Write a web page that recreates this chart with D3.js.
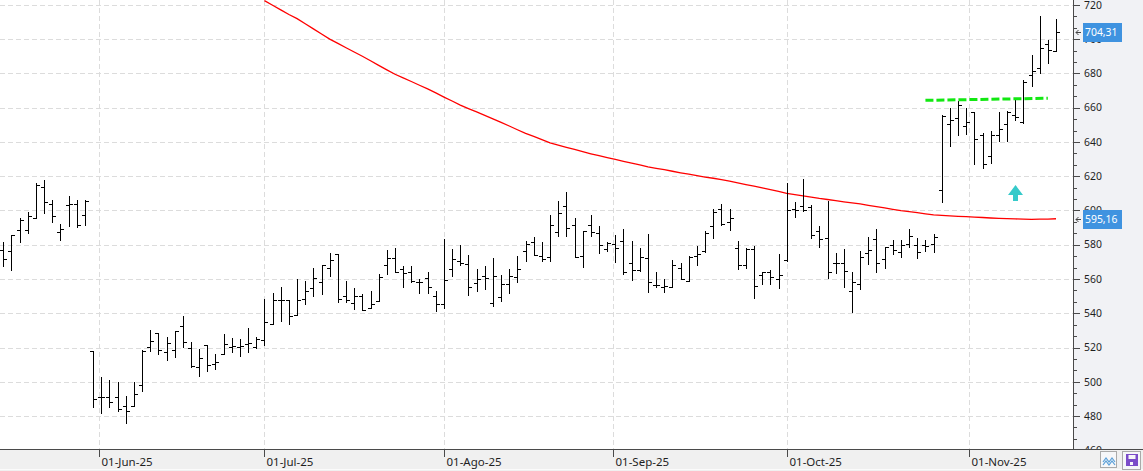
<!DOCTYPE html>
<html>
<head>
<meta charset="utf-8">
<script src="https://cdn.jsdelivr.net/npm/d3@7"></script>
<style>
body { margin: 0; background: #fff; overflow: hidden; }
svg { display: block; font-family: "Noto Sans", "Open Sans", sans-serif; }
</style>
</head>
<body>
<div id="chart"></div>
<script>
// trading days shown on the chart
var dates = [
"2025-05-14","2025-05-15","2025-05-16","2025-05-19","2025-05-20","2025-05-21","2025-05-22","2025-05-23","2025-05-27","2025-05-28","2025-05-29","2025-05-30",
"2025-06-02","2025-06-03","2025-06-04","2025-06-05","2025-06-06","2025-06-09","2025-06-10","2025-06-11","2025-06-12","2025-06-13","2025-06-16","2025-06-17","2025-06-18","2025-06-20","2025-06-23","2025-06-24","2025-06-25","2025-06-26","2025-06-27","2025-06-30",
"2025-07-01","2025-07-02","2025-07-03","2025-07-07","2025-07-08","2025-07-09","2025-07-10","2025-07-11","2025-07-14","2025-07-15","2025-07-16","2025-07-17","2025-07-18","2025-07-21","2025-07-22","2025-07-23","2025-07-24","2025-07-25","2025-07-28","2025-07-29","2025-07-30","2025-07-31",
"2025-08-01","2025-08-04","2025-08-05","2025-08-06","2025-08-07","2025-08-08","2025-08-11","2025-08-12","2025-08-13","2025-08-14","2025-08-15","2025-08-18","2025-08-19","2025-08-20","2025-08-21","2025-08-22","2025-08-25","2025-08-26","2025-08-27","2025-08-28","2025-08-29",
"2025-09-02","2025-09-03","2025-09-04","2025-09-05","2025-09-08","2025-09-09","2025-09-10","2025-09-11","2025-09-12","2025-09-15","2025-09-16","2025-09-17","2025-09-18","2025-09-19","2025-09-22","2025-09-23","2025-09-24","2025-09-25","2025-09-26","2025-09-29","2025-09-30",
"2025-10-01","2025-10-02","2025-10-03","2025-10-06","2025-10-07","2025-10-08","2025-10-09","2025-10-10","2025-10-13","2025-10-14","2025-10-15","2025-10-16","2025-10-17","2025-10-20","2025-10-21","2025-10-22","2025-10-23","2025-10-24","2025-10-27","2025-10-28","2025-10-29","2025-10-30","2025-10-31",
"2025-11-03","2025-11-04","2025-11-05","2025-11-06","2025-11-07","2025-11-10","2025-11-11","2025-11-12","2025-11-13","2025-11-14","2025-11-17"
];

var opens = [
577.0,576.6,588.6,588.8,595.6,613.8,604.0,587.7,603.4,604.0,597.4,518.1,
491.0,491.0,491.0,485.6,485.8,498.0,520.4,528.2,517.3,518.5,532.7,519.7,508.6,521.6,510.5,516.2,520.3,520.4,522.0,520.1,
524.3,533.7,547.5,547.5,538.8,548.3,554.7,558.5,566.3,574.8,549.8,545.8,550.2,543.2,546.9,568.0,572.5,565.7,563.8,558.0,560.3,550.0,
545.2,565.9,570.3,569.0,557.4,561.8,546.2,549.4,557.0,561.0,576.1,581.5,573.2,572.8,587.2,602.7,591.7,573.2,591.8,586.8,577.3,
580.2,582.1,569.1,565.2,572.0,556.7,555.3,555.5,566.4,558.6,573.6,576.1,590.7,600.6,593.0,578.1,568.0,577.7,562.1,564.1,560.2,
571.0,600.6,602.4,602.3,588.1,584.2,569.1,569.1,552.8,556.9,574.9,583.3,571.6,579.6,575.5,580.4,579.6,579.6,580.7,612.2,650.6,654.1,649.4,
657.4,644.2,631.6,644.2,650.6,655.8,651.5,678.9,683.2,697.1,692.8
];
var highs = [
581.4,585.7,595.6,599.2,616.1,617.5,606.2,592.3,608.7,606.4,606.2,518.1,
502.9,501.0,500.0,491.8,500.0,518.5,530.4,528.6,525.9,529.6,538.6,523.2,519.1,521.6,516.4,528.0,525.5,525.1,531.6,526.1,
548.5,552.0,555.2,547.5,559.9,558.7,566.3,568.4,575.0,574.8,558.7,554.5,551.2,552.7,563.2,576.7,577.9,567.4,567.8,560.1,563.8,552.9,
583.1,577.3,579.6,573.8,565.9,567.8,572.5,562.6,565.9,573.6,581.9,584.4,581.5,597.5,605.4,610.7,595.5,588.3,597.5,591.1,581.6,
585.4,588.9,581.9,577.9,586.0,564.3,560.0,570.9,569.1,573.4,579.4,587.8,600.6,603.7,600.8,582.1,577.9,579.0,564.3,565.0,574.6,
615.9,605.0,618.2,603.4,591.0,605.4,574.9,577.4,564.1,576.3,584.8,588.9,578.8,582.7,582.7,588.9,584.2,582.7,586.0,655.8,659.9,664.1,659.9,
657.7,645.5,646.1,657.2,658.3,665.7,676.2,690.9,713.6,699.6,711.9
];
var lows = [
567.4,565.1,581.4,586.7,595.6,598.4,593.3,582.6,590.8,590.2,591.4,485.0,
481.5,485.2,482.8,476.2,485.8,494.5,518.1,516.0,513.0,514.6,520.3,508.4,503.1,506.0,507.6,516.2,517.1,514.8,517.1,519.5,
521.2,533.7,535.7,533.6,538.8,545.2,550.0,551.4,561.8,546.3,546.3,542.3,542.1,542.9,546.9,563.0,563.9,555.4,558.3,552.0,551.6,541.5,
542.9,561.8,568.4,550.4,552.9,553.9,544.2,547.1,552.0,558.0,570.7,573.8,570.7,570.3,585.2,585.2,572.6,567.2,585.2,575.0,576.1,
570.1,563.1,559.6,564.9,552.6,555.1,552.6,555.5,559.8,558.6,568.2,575.7,584.1,591.3,588.7,565.6,566.2,548.9,556.9,557.3,555.0,
570.7,596.3,599.9,584.2,578.4,560.8,563.3,555.5,541.0,554.0,568.7,563.9,566.2,574.3,572.6,578.4,572.4,576.1,575.9,605.0,637.6,644.2,644.7,
627.1,625.0,627.7,640.5,640.5,653.1,651.1,672.5,680.2,685.9,692.8
];
var closes = [
571.7,585.7,594.7,596.8,615.1,605.0,596.8,589.2,603.8,591.6,605.8,489.9,
491.0,488.1,484.4,483.2,492.8,518.1,524.0,518.7,522.4,529.6,523.2,509.2,513.8,510.0,511.5,522.2,520.6,520.8,522.4,524.9,
534.9,547.5,547.5,538.6,547.5,552.7,560.3,568.0,570.9,548.5,547.9,550.0,542.1,545.2,560.9,572.5,564.3,563.6,558.7,558.0,555.2,545.2,
559.3,571.9,569.6,555.2,560.1,560.3,562.0,557.0,561.6,566.1,580.2,573.8,571.7,591.7,598.3,589.7,572.6,588.2,587.2,579.6,581.2,
577.9,564.1,565.2,573.0,558.1,556.3,555.7,568.0,559.8,573.0,574.4,586.6,599.0,592.0,595.7,568.0,577.7,555.9,564.1,561.4,562.1,
600.0,600.0,600.0,585.4,583.3,563.9,569.5,564.6,558.0,573.0,576.9,569.1,578.4,576.9,579.6,585.0,575.5,579.0,584.4,655.4,653.1,661.6,651.9,
641.5,626.9,644.2,647.3,657.7,654.4,675.2,681.4,694.8,693.8,704.31
];

// moving average, one value per day from 2025-07-01 to the last day
var maValues = [
722.5,719.8,717.1,714.4,712.0,709.0,706.0,703.0,700.0,697.5,695.0,692.5,690.0,687.4,684.7,682.1,679.5,677.4,675.3,673.1,671.0,668.6,
666.2,663.9,661.5,659.5,657.5,655.5,653.5,651.4,649.3,647.1,645.0,643.2,641.3,639.5,638.2,636.9,635.6,634.3,633.1,632.0,630.9,
629.8,628.7,627.7,626.6,625.5,624.6,623.8,622.9,622.0,621.2,620.3,619.5,618.8,618.0,617.1,616.1,615.1,614.2,613.2,612.2,611.1,
610.0,609.3,608.5,607.8,607.0,606.4,605.7,605.0,604.4,603.8,603.0,602.3,601.5,600.7,599.9,599.3,598.7,598.0,597.4,597.1,596.9,596.6,596.4,
596.1,595.9,595.6,595.4,595.2,595.1,594.9,594.8,594.9,595.0,595.16
];

var trendLine = [["2025-10-24", 664.3], ["2025-11-14", 665.5]];
var signals = [["2025-11-10", 615.0]];

var yTicks = [460,480,500,520,540,560,580,600,620,640,660,680,700,720];
var monthStarts = ["2025-06-01","2025-07-01","2025-08-01","2025-09-01","2025-10-01","2025-11-01"];
var monthLabels = ["01-Jun-25","01-Jul-25","01-Ago-25","01-Sep-25","01-Oct-25","01-Nov-25"];

var W = 1143, H = 471;
var plotRight = 1073, plotBottom = 449;

var svg = d3.select("#chart").append("svg").attr("width", W).attr("height", H);

var x = d3.scalePoint().domain(dates).range([3.3, 1056]);
var y = d3.scaleLinear().domain([460, 720]).range([450.3, 4.9]);
var parse = d3.timeParse("%Y-%m-%d");

// x position of a calendar day, placed between trading days when closed
function xDate(s) {
	var t = parse(s);
	for (var i = 0; i < dates.length; i++) {
		var ti = parse(dates[i]);
		if (+ti == +t) return x(dates[i]);
		if (ti > t) {
			var tp = parse(dates[i-1]);
			return x(dates[i-1]) + x.step() * (t - tp) / (ti - tp);
		}
	}
	return x(dates[dates.length-1]);
}
function crisp(v) { return Math.round(v) + 0.5; }

var chart = svg.append("g");

// grid
chart.selectAll(".hgrid").data(yTicks).enter().append("line")
	.attr("x1", 0).attr("x2", plotRight)
	.attr("y1", function(d) { return crisp(y(d)); })
	.attr("y2", function(d) { return crisp(y(d)); })
	.attr("stroke", "#dcdcdc").attr("stroke-dasharray", "5,3")
	.attr("shape-rendering", "crispEdges");

chart.selectAll(".vgrid").data(monthStarts).enter().append("line")
	.attr("x1", function(d) { return crisp(xDate(d)); })
	.attr("x2", function(d) { return crisp(xDate(d)); })
	.attr("y1", 0).attr("y2", plotBottom)
	.attr("stroke", "#dcdcdc").attr("stroke-dasharray", "5,3")
	.attr("shape-rendering", "crispEdges");

// moving average
var maOffset = dates.length - maValues.length;
var line = d3.line()
	.x(function(d, i) { return x(dates[maOffset + i]); })
	.y(function(d) { return y(d); });
chart.append("path").datum(maValues)
	.attr("d", line)
	.attr("fill", "none").attr("stroke", "#ff0000").attr("stroke-width", 1.3);

// OHLC bars
var bars = chart.selectAll(".bar").data(dates).enter().append("g").attr("class", "bar");
bars.append("line")
	.attr("x1", function(d) { return crisp(x(d)); })
	.attr("x2", function(d) { return crisp(x(d)); })
	.attr("y1", function(d, i) { return Math.round(y(highs[i])); })
	.attr("y2", function(d, i) { return Math.round(y(lows[i])) + 1; })
	.attr("stroke", "#000").attr("shape-rendering", "crispEdges");
bars.append("line")
	.attr("x1", function(d) { return Math.round(x(d)) - 3; })
	.attr("x2", function(d) { return Math.round(x(d)); })
	.attr("y1", function(d, i) { return crisp(y(opens[i])); })
	.attr("y2", function(d, i) { return crisp(y(opens[i])); })
	.attr("stroke", "#000").attr("shape-rendering", "crispEdges");
bars.append("line")
	.attr("x1", function(d) { return Math.round(x(d)) + 1; })
	.attr("x2", function(d) { return Math.round(x(d)) + 4; })
	.attr("y1", function(d, i) { return crisp(y(closes[i])); })
	.attr("y2", function(d, i) { return crisp(y(closes[i])); })
	.attr("stroke", "#000").attr("shape-rendering", "crispEdges");

// resistance line
chart.append("line")
	.attr("x1", x(trendLine[0][0])).attr("y1", y(trendLine[0][1]))
	.attr("x2", x(trendLine[1][0])).attr("y2", y(trendLine[1][1]))
	.attr("stroke", "#12e812").attr("stroke-width", 3).attr("stroke-dasharray", "8,3");

// buy arrow
chart.selectAll(".signal").data(signals).enter().append("path")
	.attr("d", function(d) {
		var cx = Math.round(x(d[0])) + 0.5, t = Math.round(y(d[1]));
		return "M" + cx + "," + t + "L" + (cx + 7.5) + "," + (t + 10) + "L" + (cx + 2.5) + "," + (t + 10) +
			"L" + (cx + 2.5) + "," + (t + 16) + "L" + (cx - 2.5) + "," + (t + 16) + "L" + (cx - 2.5) + "," + (t + 10) +
			"L" + (cx - 7.5) + "," + (t + 10) + "Z";
	})
	.attr("fill", "#36caca");

// right axis panel
svg.append("rect").attr("x", plotRight + 1).attr("y", 0).attr("width", W - plotRight).attr("height", plotBottom)
	.attr("fill", "#f1f2f5");
svg.append("line").attr("x1", plotRight + 0.5).attr("x2", plotRight + 0.5).attr("y1", 0).attr("y2", plotBottom)
	.attr("stroke", "#4a4a4a").attr("shape-rendering", "crispEdges");

var minorTicks = [];
for (var k = 0; k < yTicks.length - 1; k++) {
	minorTicks.push(yTicks[k] + (yTicks[k+1] - yTicks[k]) / 3);
	minorTicks.push(yTicks[k] + 2 * (yTicks[k+1] - yTicks[k]) / 3);
}
svg.selectAll(".minor").data(minorTicks).enter().append("line")
	.attr("x1", plotRight).attr("x2", plotRight + 4)
	.attr("y1", function(d) { return crisp(y(d)); })
	.attr("y2", function(d) { return crisp(y(d)); })
	.attr("stroke", "#4a4a4a").attr("shape-rendering", "crispEdges");
svg.selectAll(".major").data(yTicks).enter().append("line")
	.attr("x1", plotRight).attr("x2", plotRight + 7)
	.attr("y1", function(d) { return crisp(y(d)); })
	.attr("y2", function(d) { return crisp(y(d)); })
	.attr("stroke", "#4a4a4a").attr("shape-rendering", "crispEdges");
svg.selectAll(".ylab").data(yTicks).enter().append("text")
	.attr("x", plotRight + 11).attr("y", function(d) { return y(d); })
	.attr("dy", "0.36em")
	.attr("font-size", "10.4px").attr("fill", "#1f1f1f")
	.text(function(d) { return d; });

// last value boxes
var fmt = function(v) { return d3.format(".2f")(v).replace(".", ","); };
var lastVals = [closes[closes.length - 1], maValues[maValues.length - 1]];
var tags = svg.selectAll(".tag").data(lastVals).enter().append("g");
tags.append("rect")
	.attr("x", plotRight + 10).attr("y", function(d) { return Math.round(y(d)) - 9; })
	.attr("width", 39).attr("height", 19).attr("fill", "#3f93e0");
tags.append("text")
	.attr("x", plotRight + 12).attr("y", function(d) { return y(d); })
	.attr("dy", "0.36em").attr("font-size", "10.4px").attr("fill", "#fff")
	.text(function(d) { return fmt(d); });
tags.append("path")
	.attr("d", function(d) {
		var c = Math.round(y(d)) + 0.5;
		return "M" + (plotRight + 8) + "," + c + "H" + (plotRight + 3) +
			"M" + (plotRight + 5.5) + "," + (c - 2.5) + "L" + (plotRight + 3) + "," + c + "L" + (plotRight + 5.5) + "," + (c + 2.5);
	})
	.attr("fill", "none").attr("stroke", "#444");

// bottom axis panel
svg.append("rect").attr("x", 0).attr("y", plotBottom).attr("width", W).attr("height", H - plotBottom)
	.attr("fill", "#f0f0f0");
svg.append("line").attr("x1", 0).attr("x2", W).attr("y1", plotBottom + 0.5).attr("y2", plotBottom + 0.5)
	.attr("stroke", "#4a4a4a").attr("shape-rendering", "crispEdges");
svg.append("line").attr("x1", 0).attr("x2", W).attr("y1", H - 1.5).attr("y2", H - 1.5)
	.attr("stroke", "#fbfbfb").attr("shape-rendering", "crispEdges");
svg.selectAll(".xtick").data(monthStarts).enter().append("line")
	.attr("x1", function(d) { return crisp(xDate(d)); })
	.attr("x2", function(d) { return crisp(xDate(d)); })
	.attr("y1", plotBottom).attr("y2", plotBottom + 8)
	.attr("stroke", "#4a4a4a").attr("shape-rendering", "crispEdges");
svg.selectAll(".xlab").data(monthStarts).enter().append("text")
	.attr("x", function(d) { return Math.round(xDate(d)) + 2.5; })
	.attr("y", 466)
	.attr("font-size", "11.5px").attr("fill", "#1f1f1f")
	.text(function(d, i) { return monthLabels[i]; });

// small buttons at the bottom right
svg.append("rect").attr("x", 1100.5).attr("y", 451.5).attr("width", 16).attr("height", 16)
	.attr("fill", "#f6f7f9").attr("stroke", "#aaa");
svg.append("path").attr("d", "M1103,462L1106,458L1109,462L1112,458L1115,462M1103,465L1106,461L1109,465L1112,461L1115,465")
	.attr("fill", "none").attr("stroke", "#5a9fd8").attr("stroke-width", 1.2);
svg.append("rect").attr("x", 1122.5).attr("y", 451.5).attr("width", 18).attr("height", 18)
	.attr("fill", "#f6f7f9").attr("stroke", "#aaa");
svg.append("rect").attr("x", 1126).attr("y", 454).attr("width", 12).attr("height", 12).attr("fill", "#7b4cc9");
svg.append("rect").attr("x", 1128.5).attr("y", 455).attr("width", 7).attr("height", 4).attr("fill", "#f6f7f9");
svg.append("rect").attr("x", 1130).attr("y", 462).attr("width", 3).attr("height", 3).attr("fill", "#f6f7f9");
</script>
</body>
</html>
